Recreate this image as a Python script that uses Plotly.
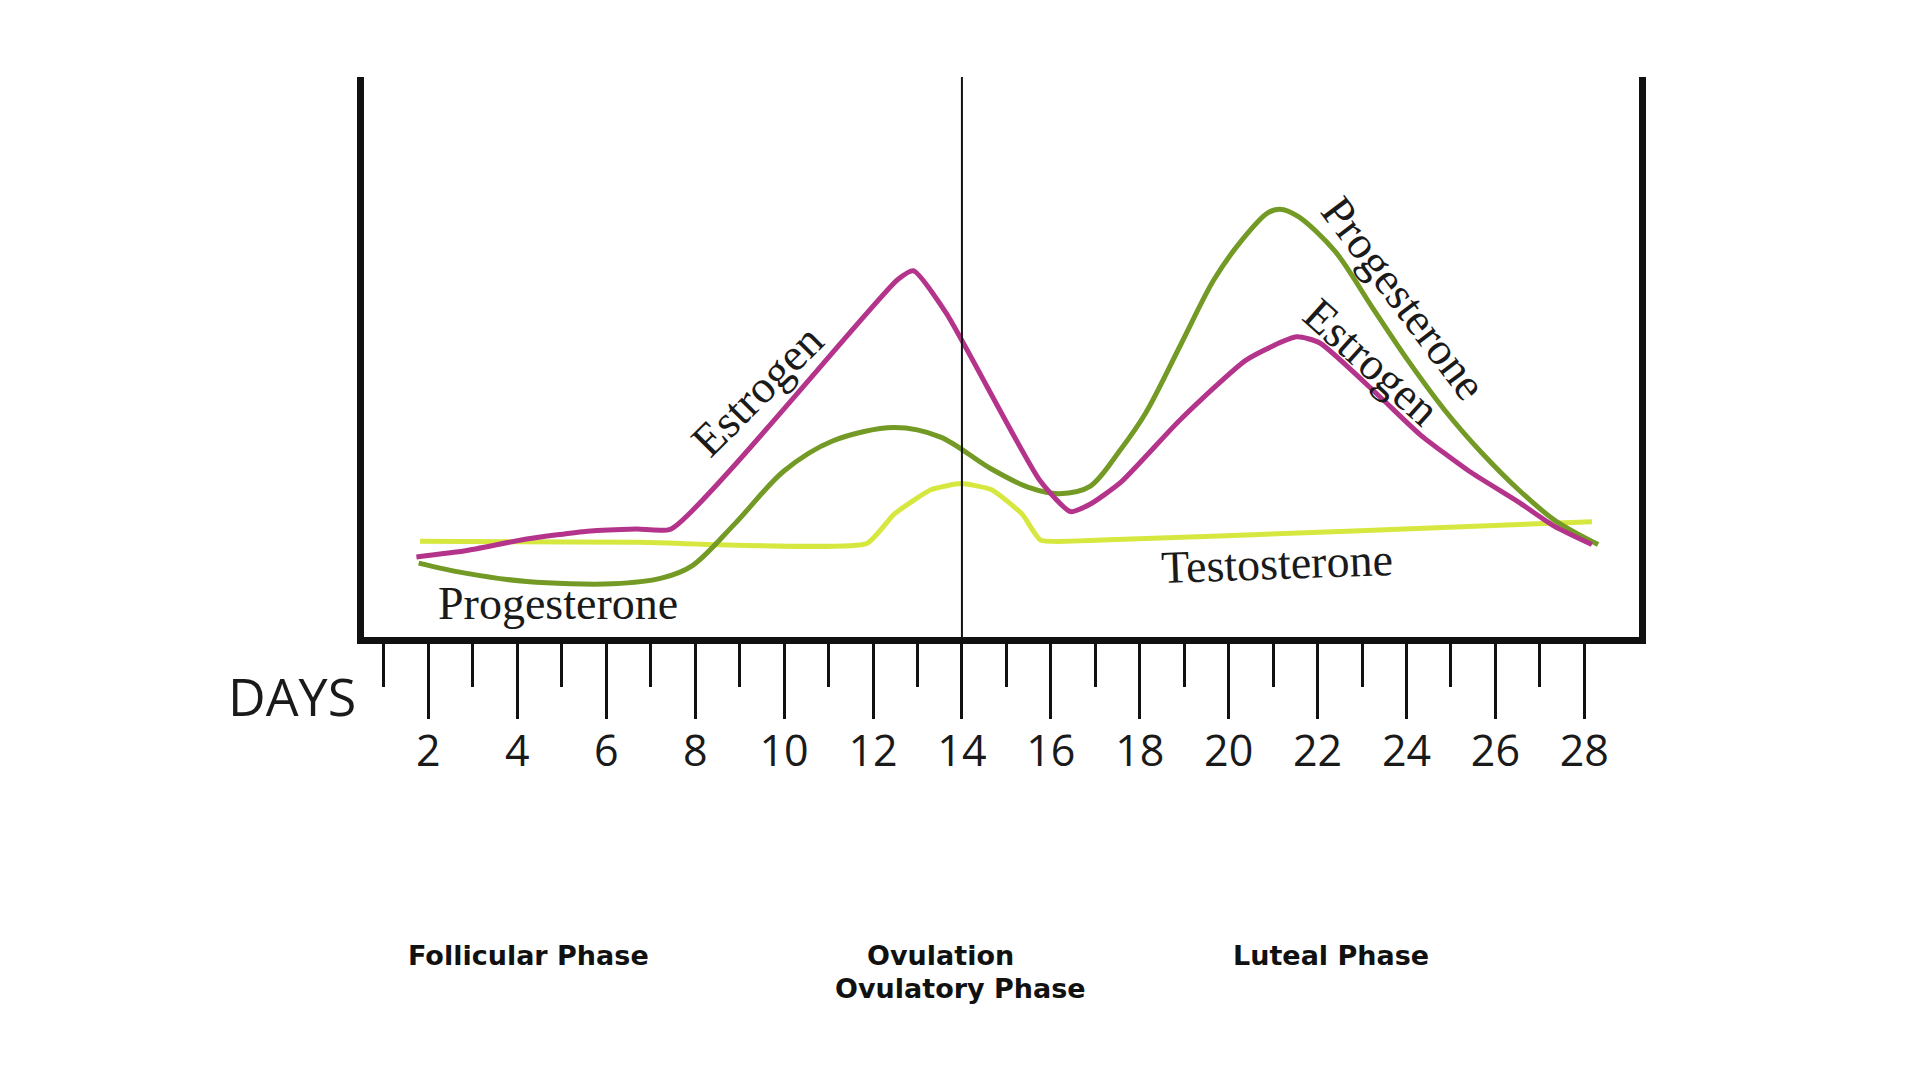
import plotly.graph_objects as go

# ---- data (day of cycle, relative hormone level 0-100) ----
estrogen_days = [1.73, 2.83, 4.21, 5.58, 6.69, 7.46, 12.55, 12.91, 13.65, 15.75, 16.44, 16.88,
                 17.57, 18.91, 20.40, 21.53, 22.05, 23.40, 24.31, 25.41, 26.52, 27.34, 28.17]
estrogen_level = [14.3, 15.4, 17.5, 18.9, 19.3, 19.3, 63.8, 65.4, 57.8, 28.0, 22.4, 23.7,
                  27.6, 38.8, 49.5, 53.6, 52.5, 42.9, 36.1, 29.6, 24.1, 19.7, 16.5]

progesterone_days = [1.78, 2.83, 4.21, 6.14, 7.24, 7.93, 8.89, 9.99, 11.09, 12.47, 13.52, 14.62,
                     15.50, 16.19, 16.88, 17.57, 18.14, 18.94, 19.66, 20.32, 20.87, 21.15, 21.56,
                     22.39, 23.21, 24.04, 24.86, 25.69, 26.52, 27.34, 28.31]
progesterone_level = [13.2, 11.4, 9.9, 9.5, 10.5, 12.7, 20.2, 29.6, 35.0, 37.4, 35.7, 30.2,
                      26.7, 25.6, 26.9, 33.5, 40.1, 52.5, 63.7, 71.1, 75.7, 76.4, 75.1,
                      68.9, 59.1, 49.3, 40.5, 32.9, 26.3, 20.8, 16.5]

testosterone_days = [1.81, 6.69, 11.86, 12.47, 13.30, 13.98, 14.67, 15.36, 15.77, 17.15, 22.66, 28.17]
testosterone_level = [17.1, 16.9, 16.7, 21.9, 26.3, 27.4, 26.3, 21.9, 17.3, 17.3, 18.9, 20.6]

major_days = list(range(2, 29, 2))
minor_days = list(range(1, 28, 2))
ovulation_day = 14

curve_labels = [
    # text, day, level, angle
    ("Estrogen", 9.39, 44.1, -45),
    ("Progesterone", 23.95, 60.5, 53),
    ("Estrogen", 23.23, 49.1, 42),
    ("Progesterone", 4.91, 5.9, 0),
    ("Testosterone", 21.09, 13.2, -2),
]
phase_labels = [
    ("Follicular Phase", 0.1294, -0.568),
    ("Ovulation", 0.4518, -0.568),
    ("Ovulatory Phase", 0.4682, -0.627),
    ("Luteal Phase", 0.7584, -0.568),
]

C_EST = "#b5348b"
C_PRO = "#739a25"
C_TES = "#d6e840"

fig = go.Figure()
fig.add_trace(go.Scatter(x=testosterone_days, y=testosterone_level, mode="lines",
                         line=dict(color=C_TES, width=5, shape="spline", smoothing=0.45),
                         name="Testosterone"))
fig.add_trace(go.Scatter(x=progesterone_days, y=progesterone_level, mode="lines",
                         line=dict(color=C_PRO, width=5, shape="spline", smoothing=0.9),
                         name="Progesterone"))
fig.add_trace(go.Scatter(x=estrogen_days, y=estrogen_level, mode="lines",
                         line=dict(color=C_EST, width=5, shape="spline", smoothing=0.55),
                         name="Estrogen"))

fig.add_shape(type="line", xref="x", yref="paper", x0=ovulation_day, x1=ovulation_day,
              y0=0, y1=1, line=dict(color="#111111", width=2))

for txt, d, lv, ang in curve_labels:
    fig.add_annotation(x=d, y=lv, xref="x", yref="y", text=txt, showarrow=False,
                       textangle=ang, font=dict(family="Liberation Serif", size=46, color="#1a1a1a"))

for txt, px, py in phase_labels:
    fig.add_annotation(x=px, y=py, xref="paper", yref="paper", text="<b>" + txt + "</b>",
                       showarrow=False,
                       font=dict(family="DejaVu Sans", size=27, color="#111111"),
                       xanchor="center", yanchor="middle")

fig.add_annotation(x=-0.0565, y=-0.1036, xref="paper", yref="paper", text="DAYS", showarrow=False,
                   font=dict(family="Open Sans", size=52, color="#1a1a1a"),
                   xanchor="center", yanchor="middle")

# page body has an 8px margin, so the figure is 16px smaller and everything is shifted by -8px
fig.update_layout(
    width=1904, height=1064,
    margin=dict(l=356, r=273, t=69, b=435),
    paper_bgcolor="white", plot_bgcolor="white",
    showlegend=False,
    xaxis=dict(range=[0.551, 29.229], tickmode="array", tickvals=major_days,
               ticktext=[str(d) for d in major_days],
               ticks="outside", ticklen=75, tickwidth=2.5, tickcolor="#111111",
               ticklabelstandoff=-5,
               tickfont=dict(family="Open Sans", size=43, color="#1a1a1a"),
               minor=dict(tickmode="array", tickvals=minor_days, ticks="outside",
                          ticklen=43, tickwidth=2.5, tickcolor="#111111", showgrid=False),
               showline=True, linewidth=7, linecolor="#111111",
               showgrid=False, zeroline=False, fixedrange=True),
    yaxis=dict(range=[0, 100], showticklabels=False, ticks="",
               showline=True, linewidth=7, linecolor="#111111", mirror=True,
               showgrid=False, zeroline=False, fixedrange=True),
)

fig.write_html("out.html")
